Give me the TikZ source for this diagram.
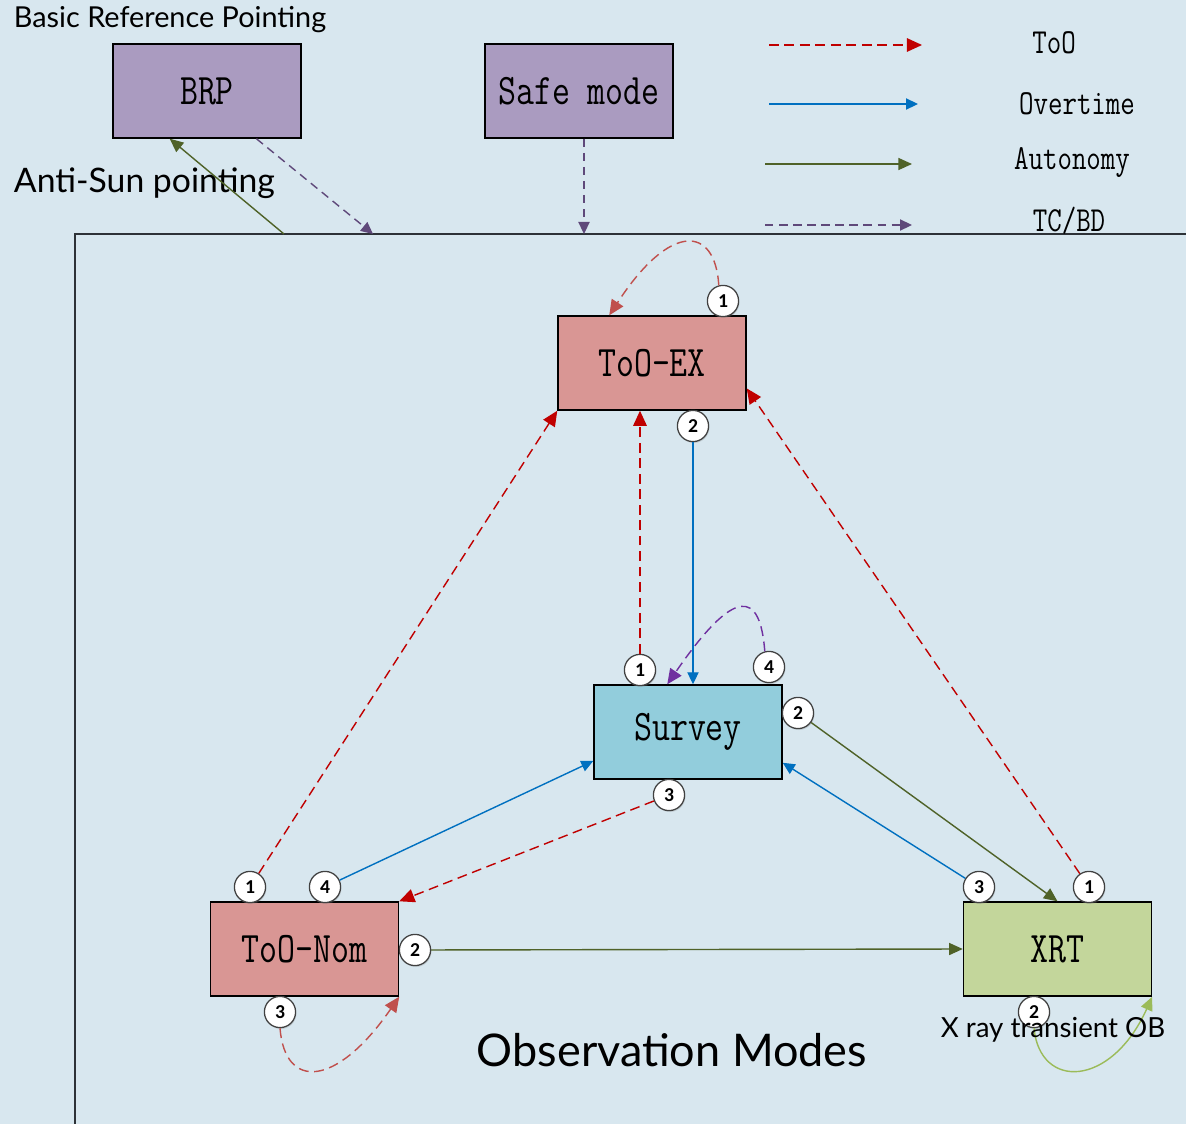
\documentclass[tikz,border=0pt]{standalone}
\usepackage{fontspec}
\usepackage{xcolor}
\usepackage{tikz}
\usetikzlibrary{arrows.meta,calc,shadows}
\newfontfamily\gillfont{Lato}
\newfontfamily\badgefont{Carlito}
\newfontfamily\modefont[FakeStretch=0.8]{Latin Modern Mono}
\definecolor{bg}{RGB}{216,231,239}
\definecolor{lilac}{RGB}{170,155,192}
\definecolor{rose}{RGB}{217,150,148}
\definecolor{sky}{RGB}{146,205,220}
\definecolor{olive}{RGB}{195,214,155}
\definecolor{toored}{RGB}{192,0,0}
\definecolor{loopred}{RGB}{192,80,77}
\definecolor{overblue}{RGB}{0,112,192}
\definecolor{autogreen}{RGB}{79,98,40}
\definecolor{loopgreen}{RGB}{155,187,89}
\definecolor{tcpurple}{RGB}{95,73,122}
\definecolor{looppurple}{RGB}{112,48,160}
\definecolor{framegray}{RGB}{45,50,55}
\tikzset{
    mode/.style={draw=black, line width=1pt, minimum width=4.7cm, minimum height=2.35cm, inner sep=0pt, font=\modefont\fontsize{31}{31}\selectfont},
    cmdbox/.style={mode, fill=lilac},
    toobox/.style={mode, fill=rose},
    surveybox/.style={mode, fill=sky},
    xrtbox/.style={mode, fill=olive},
    badge/.style={circle, draw=black!75, fill=white, line width=0.9pt, minimum size=0.78cm, inner sep=0pt, font=\badgefont\bfseries\fontsize{14}{14}\selectfont, drop shadow={opacity=0.25, shadow xshift=0.6pt, shadow yshift=-1pt}},
    tooline/.style={-{Triangle[length=3.8mm,width=3.4mm]}, line width=1pt, draw=toored, dash pattern=on 7pt off 4pt},
    overline/.style={-{Triangle[length=3mm,width=2.8mm]}, line width=1pt, draw=overblue},
    autoline/.style={-{Triangle[length=3.4mm,width=3mm]}, line width=1pt, draw=autogreen},
    tcline/.style={-{Triangle[length=3mm,width=2.8mm]}, line width=1pt, draw=tcpurple, dash pattern=on 6pt off 4pt},
    legendtext/.style={font=\modefont\fontsize{25}{25}\selectfont},
    frame/.style={draw=framegray, line width=1.4pt}
}
\begin{document}
\begin{tikzpicture}[x=0.025cm, y=-0.025cm]
\useasboundingbox[fill=bg] (0,0) rectangle (1186,1124);
\draw[frame] (75,1124) |- (1186,234);

\node[cmdbox] (brp) at (207,91) {BRP};
\node[cmdbox] (safe) at (579,91) {Safe mode};
\node[toobox] (toex) at (652,363) {ToO-EX};
\node[surveybox] (survey) at (688,732) {Survey};
\node[toobox] (toonom) at (304.5,949) {ToO-Nom};
\node[xrtbox] (xrt) at (1057.5,949) {XRT};

\node[anchor=west, font=\gillfont\fontsize{20.5}{20.5}\selectfont] (brptitle) at (9,20) {Basic Reference Pointing};
\node[anchor=west, font=\gillfont\fontsize{24}{24}\selectfont] (antisun) at (9,183) {Anti-Sun pointing};
\node[font=\gillfont\fontsize{32}{32}\selectfont] (obsmodes) at (672,1050) {Observation Modes};

\coordinate (sunexit) at (284,234);
\coordinate (brpin) at (373,234);
\coordinate (safein) at (584,234);
\draw[autoline] (sunexit) -- (brp.232);
\draw[tcline] (brp.-44) -- (brpin);
\draw[tcline] (safe.south -| safein) -- (safein);

\coordinate (ltoo) at (769,45);
\coordinate (lover) at (769,104);
\coordinate (lauto) at (765,164);
\coordinate (ltc) at (765,225);
\draw[tooline] (ltoo) -- ++(153,0);
\draw[overline] (lover) -- ++(149,0);
\draw[autoline] (lauto) -- ++(147,0);
\draw[tcline] (ltc) -- ++(147,0);
\node[legendtext] (ltootext) at (1054,43) {ToO};
\node[legendtext] (lovertext) at (1077,104) {Overtime};
\node[legendtext] (lautotext) at (1072,163) {Autonomy};
\node[legendtext] (ltctext) at (1069,221) {TC/BD};

\node[badge] (ex1) at (723,301) {1};
\node[badge] (ex2) at (693,426) {2};
\node[badge] (sv1) at (640,670) {1};
\node[badge] (sv4) at (769,667) {4};
\node[badge] (sv2) at (798,713) {2};
\node[badge] (sv3) at (669,795) {3};
\node[badge] (nm1) at (250,887) {1};
\node[badge] (nm4) at (325,887) {4};
\node[badge] (nm2) at (415,950) {2};
\node[badge] (nm3) at (280,1012) {3};
\node[badge] (xr3) at (979,887) {3};
\node[badge] (xr1) at (1089,887) {1};
\node[badge] (xr2) at (1034,1012) {2};

\draw[tooline, draw=loopred] (ex1.105) .. controls (715,225) and (670,222) .. ($(toex.north west)+(52,0)$);
\draw[overline] (ex2) -- (ex2 |- survey.north);
\draw[tooline] (sv1) -- (sv1 |- toex.south);
\draw[tooline] (nm1) -- (toex.south west);
\draw[tooline] (xr1) -- (toex.-15);
\draw[tooline, draw=looppurple] (sv4.105) .. controls (760,590) and (735,586) .. ($(survey.north west)+(74,0)$);
\draw[autoline] (sv2) -- (xrt.north);
\draw[overline] (xr3) -- (survey.-18);
\draw[overline] (nm4) -- (survey.197);
\draw[tooline] (sv3) -- (toonom.north east);
\draw[autoline] (nm2) -- (xrt.west);
\draw[tooline, draw=loopred] (nm3.south) .. controls (285,1090) and (336,1088) .. (toonom.south east);
\draw[autoline, draw=loopgreen] (xr2.south) .. controls (1040,1090) and (1111,1088) .. (xrt.south east);

\node[font=\gillfont\fontsize{19.7}{19.7}\selectfont] (xraylabel) at (1053,1030) {X ray transient OB};
\end{tikzpicture}
\end{document}
